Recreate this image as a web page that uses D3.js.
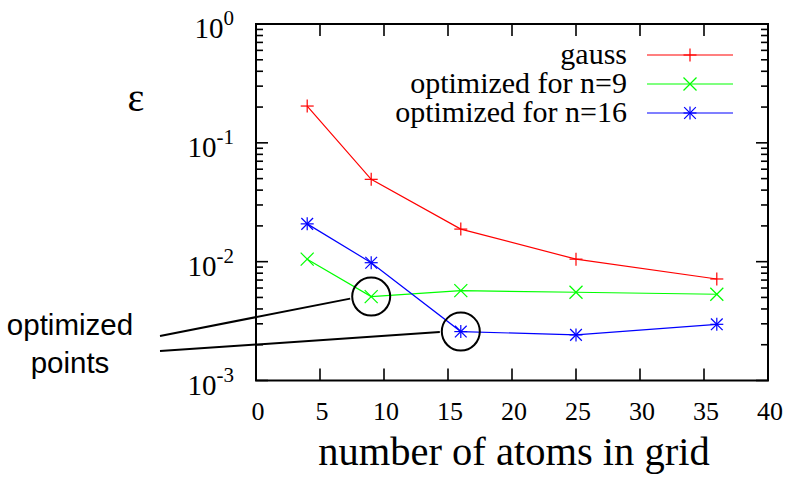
<!DOCTYPE html>
<html>
<head>
<meta charset="utf-8">
<script src="https://cdn.jsdelivr.net/npm/d3@7"></script>
<style>
  html, body { margin: 0; padding: 0; background: #fff; }
  svg { display: block; }
</style>
</head>
<body>
<svg id="chart" width="791" height="478"></svg>
<script>
// ---- data ----
const atoms = [4, 9, 16, 25, 36];
const gauss = [0.204, 0.0493, 0.0188, 0.0105, 0.00715];
const optN9 = [0.0105, 0.00508, 0.0057, 0.00553, 0.00532];
const optN16 = [0.0208, 0.0098, 0.00258, 0.00242, 0.00297];
const seriesNames = ["gauss", "optimized for n=9", "optimized for n=16"];
const seriesColors = ["#ff0000", "#00ff00", "#0000ff"];
const seriesMarkers = ["plus", "cross", "star"];
const xTicks = [0, 5, 10, 15, 20, 25, 30, 35, 40];
const yExponents = [0, -1, -2, -3];
const highlighted = [{ series: 1, index: 1 }, { series: 2, index: 2 }];

(function () {
const series = [gauss, optN9, optN16];

const svg = d3.select("#chart");
const serif = "'Liberation Serif', 'Times New Roman', serif";
const sans = "'Liberation Sans', Arial, sans-serif";

const x = d3.scaleLinear().domain([0, 40]).range([256, 768]);
const y = d3.scaleLog().domain([1e-3, 1]).range([380.5, 24]);

const pLeft = x(0), pRight = x(40), pTop = y(1), pBottom = y(1e-3);

// ---- ticks ----
const g = svg.append("g").attr("stroke", "#000").attr("stroke-width", 1.6);
const majorLen = 12, minorLen = 7;
xTicks.forEach(t => {
  const px = x(t);
  g.append("line").attr("x1", px).attr("x2", px).attr("y1", pBottom).attr("y2", pBottom - majorLen);
  g.append("line").attr("x1", px).attr("x2", px).attr("y1", pTop).attr("y2", pTop + majorLen);
});
yExponents.forEach(e => {
  const py = y(Math.pow(10, e));
  g.append("line").attr("x1", pLeft).attr("x2", pLeft + majorLen).attr("y1", py).attr("y2", py);
  g.append("line").attr("x1", pRight).attr("x2", pRight - majorLen).attr("y1", py).attr("y2", py);
  if (e > -3) {
    for (let m = 2; m <= 9; m++) {
      const v = m * Math.pow(10, e - 1);
      const pv = y(v);
      g.append("line").attr("x1", pLeft).attr("x2", pLeft + minorLen).attr("y1", pv).attr("y2", pv);
      g.append("line").attr("x1", pRight).attr("x2", pRight - minorLen).attr("y1", pv).attr("y2", pv);
    }
  }
});

// frame
svg.append("rect")
  .attr("x", pLeft).attr("y", pTop)
  .attr("width", pRight - pLeft).attr("height", pBottom - pTop)
  .attr("fill", "none").attr("stroke", "#000").attr("stroke-width", 2);

// x tick labels
svg.append("g").selectAll("text").data(xTicks).join("text")
  .attr("x", d => x(d) + 2)
  .attr("y", 420)
  .attr("text-anchor", "middle")
  .attr("font-family", serif)
  .attr("font-size", 26)
  .text(d => d);

// y tick labels
yExponents.forEach(e => {
  const py = y(Math.pow(10, e));
  const t = svg.append("text")
    .attr("x", 234)
    .attr("y", py + 14)
    .attr("text-anchor", "end")
    .attr("font-family", serif)
    .attr("font-size", 29);
  t.append("tspan").text("10");
  t.append("tspan").attr("dy", -13).attr("font-size", 21).text(e);
});

// axis labels
svg.append("text")
  .attr("x", 514).attr("y", 465)
  .attr("text-anchor", "middle")
  .attr("font-family", serif)
  .attr("font-size", 40.5)
  .text("number of atoms in grid");

svg.append("text")
  .attr("x", 136).attr("y", 111)
  .attr("text-anchor", "middle")
  .attr("font-family", serif)
  .attr("font-size", 40)
  .text("ε");

// ---- markers ----
function drawMarker(sel, type, cx, cy, color) {
  const s = 6.5;
  const segs = [];
  if (type === "plus" || type === "star") {
    segs.push([cx - s, cy, cx + s, cy], [cx, cy - s, cx, cy + s]);
  }
  if (type === "cross" || type === "star") {
    const d = type === "star" ? s * 0.9 : s;
    segs.push([cx - d, cy - d, cx + d, cy + d], [cx - d, cy + d, cx + d, cy - d]);
  }
  segs.forEach(p => sel.append("line")
    .attr("x1", p[0]).attr("y1", p[1]).attr("x2", p[2]).attr("y2", p[3])
    .attr("stroke", color).attr("stroke-width", 1.2));
}

const line = d3.line().x(d => x(d[0])).y(d => y(d[1]));
series.forEach((vals, i) => {
  const pts = atoms.map((a, j) => [a, vals[j]]);
  svg.append("path").attr("d", line(pts))
    .attr("fill", "none").attr("stroke", seriesColors[i]).attr("stroke-width", 1.2);
  const mg = svg.append("g");
  pts.forEach(p => drawMarker(mg, seriesMarkers[i], x(p[0]), y(p[1]), seriesColors[i]));
});

// ---- legend ----
const legendY = [55, 84, 113];
seriesNames.forEach((name, i) => {
  svg.append("text")
    .attr("x", 627).attr("y", legendY[i] + 9)
    .attr("text-anchor", "end")
    .attr("font-family", serif)
    .attr("font-size", 30)
    .text(name);
  svg.append("line")
    .attr("x1", 647).attr("x2", 733)
    .attr("y1", legendY[i]).attr("y2", legendY[i])
    .attr("stroke", seriesColors[i]).attr("stroke-width", 1.2);
  drawMarker(svg, seriesMarkers[i], 690, legendY[i], seriesColors[i]);
});

// ---- annotation ----
const r = 19;
const lineStarts = [[160, 336], [160, 351]];
highlighted.forEach((h, k) => {
  const cx = x(atoms[h.index]);
  const cy = y(series[h.series][h.index]);
  svg.append("circle").attr("cx", cx).attr("cy", cy).attr("r", r)
    .attr("fill", "none").attr("stroke", "#000").attr("stroke-width", 2);
  svg.append("line")
    .attr("x1", lineStarts[k][0]).attr("y1", lineStarts[k][1])
    .attr("x2", cx - r - 2).attr("y2", cy + (k === 0 ? 2 : 0.5))
    .attr("stroke", "#000").attr("stroke-width", 2);
});

svg.append("text")
  .attr("x", 70).attr("y", 335)
  .attr("text-anchor", "middle")
  .attr("font-family", sans)
  .attr("font-size", 29.5)
  .text("optimized");
svg.append("text")
  .attr("x", 70).attr("y", 373)
  .attr("text-anchor", "middle")
  .attr("font-family", sans)
  .attr("font-size", 29.5)
  .text("points");
})();
</script>
</body>
</html>
